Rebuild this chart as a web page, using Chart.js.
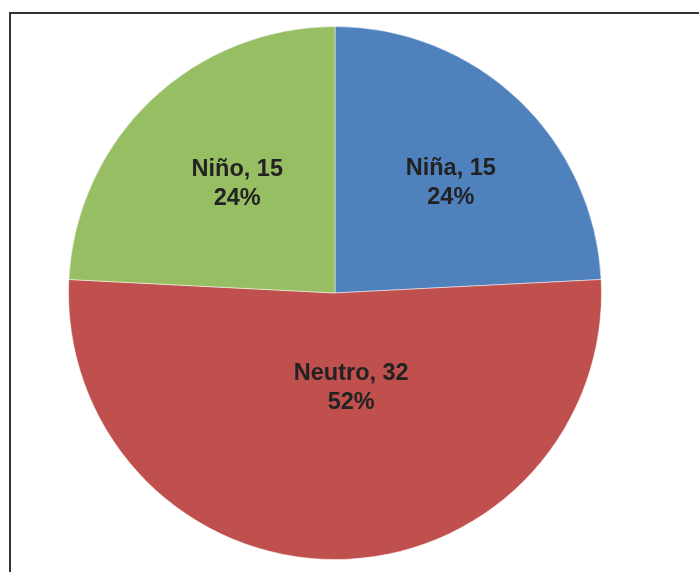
<!DOCTYPE html>
<html>
<head>
<meta charset="utf-8">
<script src="https://cdn.jsdelivr.net/npm/chart.js@4/dist/chart.umd.min.js"></script>
<style>
  html, body { margin: 0; padding: 0; background: #fff; }
  #wrap { position: relative; width: 699px; height: 572px; overflow: hidden; }
  #frame { position: absolute; left: 9px; top: 12px; width: 760px; height: 640px;
           border-left: 2px solid #333; border-top: 2px solid #333; box-sizing: border-box; }
  #chart { position: absolute; left: 0; top: 0; }
</style>
</head>
<body>
<div id="wrap">
  <div id="frame"></div>
  <canvas id="chart" width="699" height="572"></canvas>
</div>
<script>
const labels = ["Niña", "Neutro", "Niño"];
const counts = [15, 32, 15];
const colors = ["#4F81BD", "#C0504D", "#97BE62"];

// where each label sits inside its slice: fraction of radius, angle nudge (rad)
const labelRadius = [0.6, 0.36, 0.55];
const labelNudge = [0.05, -0.17, 0.03];

const total = counts.reduce((a, b) => a + b, 0);

const sliceLabels = {
    id: "sliceLabels",
    afterDatasetsDraw(chart) {
        const ctx = chart.ctx;
        const meta = chart.getDatasetMeta(0);
        ctx.save();
        ctx.fillStyle = "#222";
        ctx.font = "bold 23.5px 'Liberation Sans', Arial, sans-serif";
        ctx.textAlign = "center";
        ctx.textBaseline = "middle";
        meta.data.forEach((arc, i) => {
            const p = arc.getProps(["x", "y", "startAngle", "endAngle", "outerRadius"], true);
            const mid = (p.startAngle + p.endAngle) / 2 + labelNudge[i];
            const r = p.outerRadius * labelRadius[i];
            const x = p.x + Math.cos(mid) * r;
            const y = p.y + Math.sin(mid) * r;
            const pct = Math.round(counts[i] / total * 100) + "%";
            ctx.fillText(labels[i] + ", " + counts[i], x, y - 14.5);
            ctx.fillText(pct, x, y + 15);
        });
        ctx.restore();
    }
};

new Chart(document.getElementById("chart").getContext("2d"), {
    type: "pie",
    data: {
        labels: labels,
        datasets: [{
            data: counts,
            backgroundColor: colors,
            borderColor: "rgba(255,255,255,0.5)",
            borderWidth: 1
        }]
    },
    options: {
        responsive: false,
        animation: false,
        layout: { padding: { left: 68, right: 97, top: 26, bottom: 12 } },
        plugins: {
            legend: { display: false },
            tooltip: { enabled: false }
        }
    },
    plugins: [sliceLabels]
});
</script>
</body>
</html>
